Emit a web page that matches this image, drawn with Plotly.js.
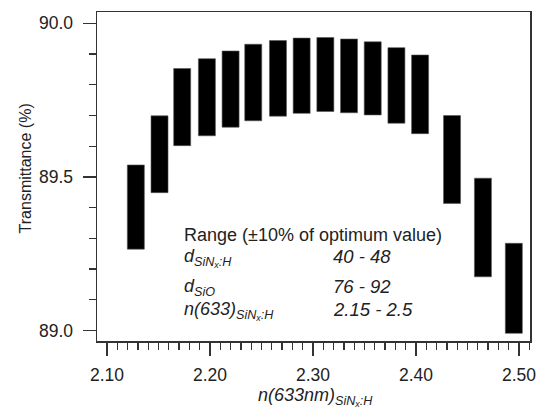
<!DOCTYPE html>
<html>
<head>
<meta charset="utf-8">
<script src="https://cdn.plot.ly/plotly-3.0.1.min.js"></script>
<style>html,body{margin:0;padding:0;background:#fff;}</style>
</head>
<body>
<div id="chart" style="width:540px;height:409px;"></div>
<script>
// n(633nm) of SiNx:H for each simulated layer
const refractiveIndex = [2.128, 2.151, 2.173, 2.197, 2.220, 2.242, 2.266, 2.289, 2.312, 2.335, 2.358, 2.381, 2.404, 2.435, 2.465, 2.495];
// Transmittance range (%) for ±10% of optimum values
const transLow  = [89.265, 89.449, 89.602, 89.634, 89.662, 89.683, 89.698, 89.707, 89.713, 89.709, 89.702, 89.675, 89.641, 89.414, 89.175, 88.991];
const transHigh = [89.539, 89.699, 89.853, 89.885, 89.910, 89.932, 89.944, 89.952, 89.954, 89.949, 89.940, 89.921, 89.897, 89.700, 89.496, 89.284];

const rangeTitle = 'Range (±10% of optimum value)';
const rangeLabels = ['<i>d</i><sub><i>SiN<sub>x</sub>:H</i></sub>', '<i>d</i><sub><i>SiO</i></sub>', '<i>n(633)</i><sub><i>SiN<sub>x</sub>:H</i></sub>'];
const rangeValues = ['40 - 48', '76 - 92', '2.15 - 2.5'];
const xTitle = '<i>n(633nm)<sub>SiN<sub>x</sub>:H</sub></i>';
const yTitle = 'Transmittance (%)';

const FONT = 'Liberation Sans, Arial, sans-serif';
const TXT = '#222';

const trace = {
  type: 'bar',
  x: refractiveIndex,
  base: transLow,
  y: transHigh.map((h, i) => h - transLow[i]),
  width: 0.0165,
  marker: {color: '#000', line: {width: 0.6, color: '#555'}},
  hoverinfo: 'skip'
};

const rowY = [0.2948, 0.2036, 0.134];
const annotations = [{
  xref: 'paper', yref: 'paper', x: 0.197, y: 0.322, xanchor: 'left', yanchor: 'middle',
  text: rangeTitle, showarrow: false, font: {family: FONT, size: 18, color: TXT}
}, {
  xref: 'paper', yref: 'paper', x: -0.166, y: 0.525, xanchor: 'center', yanchor: 'middle', textangle: -90,
  text: yTitle, showarrow: false, font: {family: FONT, size: 16, color: TXT}
}, {
  xref: 'paper', yref: 'paper', x: 0.5035, y: -0.1307, xanchor: 'center', yanchor: 'top', borderpad: 0,
  text: xTitle, showarrow: false, font: {family: FONT, size: 18, color: TXT}
}];
rangeLabels.forEach((t, i) => {
  annotations.push({xref: 'paper', yref: 'paper', x: 0.197, y: rowY[i], xanchor: 'left', yanchor: 'top',
    text: t, showarrow: false, font: {family: FONT, size: 18, color: TXT}});
  annotations.push({xref: 'paper', yref: 'paper', x: 0.541, y: rowY[i], xanchor: 'left', yanchor: 'top',
    text: '<i>' + rangeValues[i] + '</i>', showarrow: false, font: {family: FONT, size: 18.5, color: TXT}});
});

const layout = {
  width: 540, height: 409,
  margin: {l: 97, r: 10, t: 12, b: 68, pad: 0},
  paper_bgcolor: '#fff', plot_bgcolor: '#fff',
  showlegend: false,
  font: {family: FONT, color: TXT},
  xaxis: {
    range: [2.0903, 2.5107], dtick: 0.1, tick0: 2.1, tickformat: '.2f',
    ticks: 'outside', ticklen: 13, tickwidth: 1.5, tickcolor: '#333',
    minor: {dtick: 0.01, ticks: 'outside', ticklen: 7, tickwidth: 1.3, tickcolor: '#333', showgrid: false},
    showgrid: false, zeroline: false,
    showline: true, linecolor: '#333', linewidth: 1.5, mirror: true,
    tickfont: {family: FONT, size: 17.5, color: TXT},
    ticklabelstandoff: 4
  },
  yaxis: {
    range: [88.966, 90.037], dtick: 0.5, tick0: 89, tickformat: '.1f',
    ticks: 'outside', ticklen: 13, tickwidth: 1.5, tickcolor: '#333',
    minor: {dtick: 0.1, ticks: 'outside', ticklen: 7, tickwidth: 1.3, tickcolor: '#333', showgrid: false},
    showgrid: false, zeroline: false,
    showline: true, linecolor: '#333', linewidth: 1.5, mirror: true,
    tickfont: {family: FONT, size: 17.5, color: TXT},
    ticklabelstandoff: 6
  },
  annotations: annotations
};

Plotly.newPlot('chart', [trace], layout, {displayModeBar: false, staticPlot: true});
</script>
</body>
</html>
